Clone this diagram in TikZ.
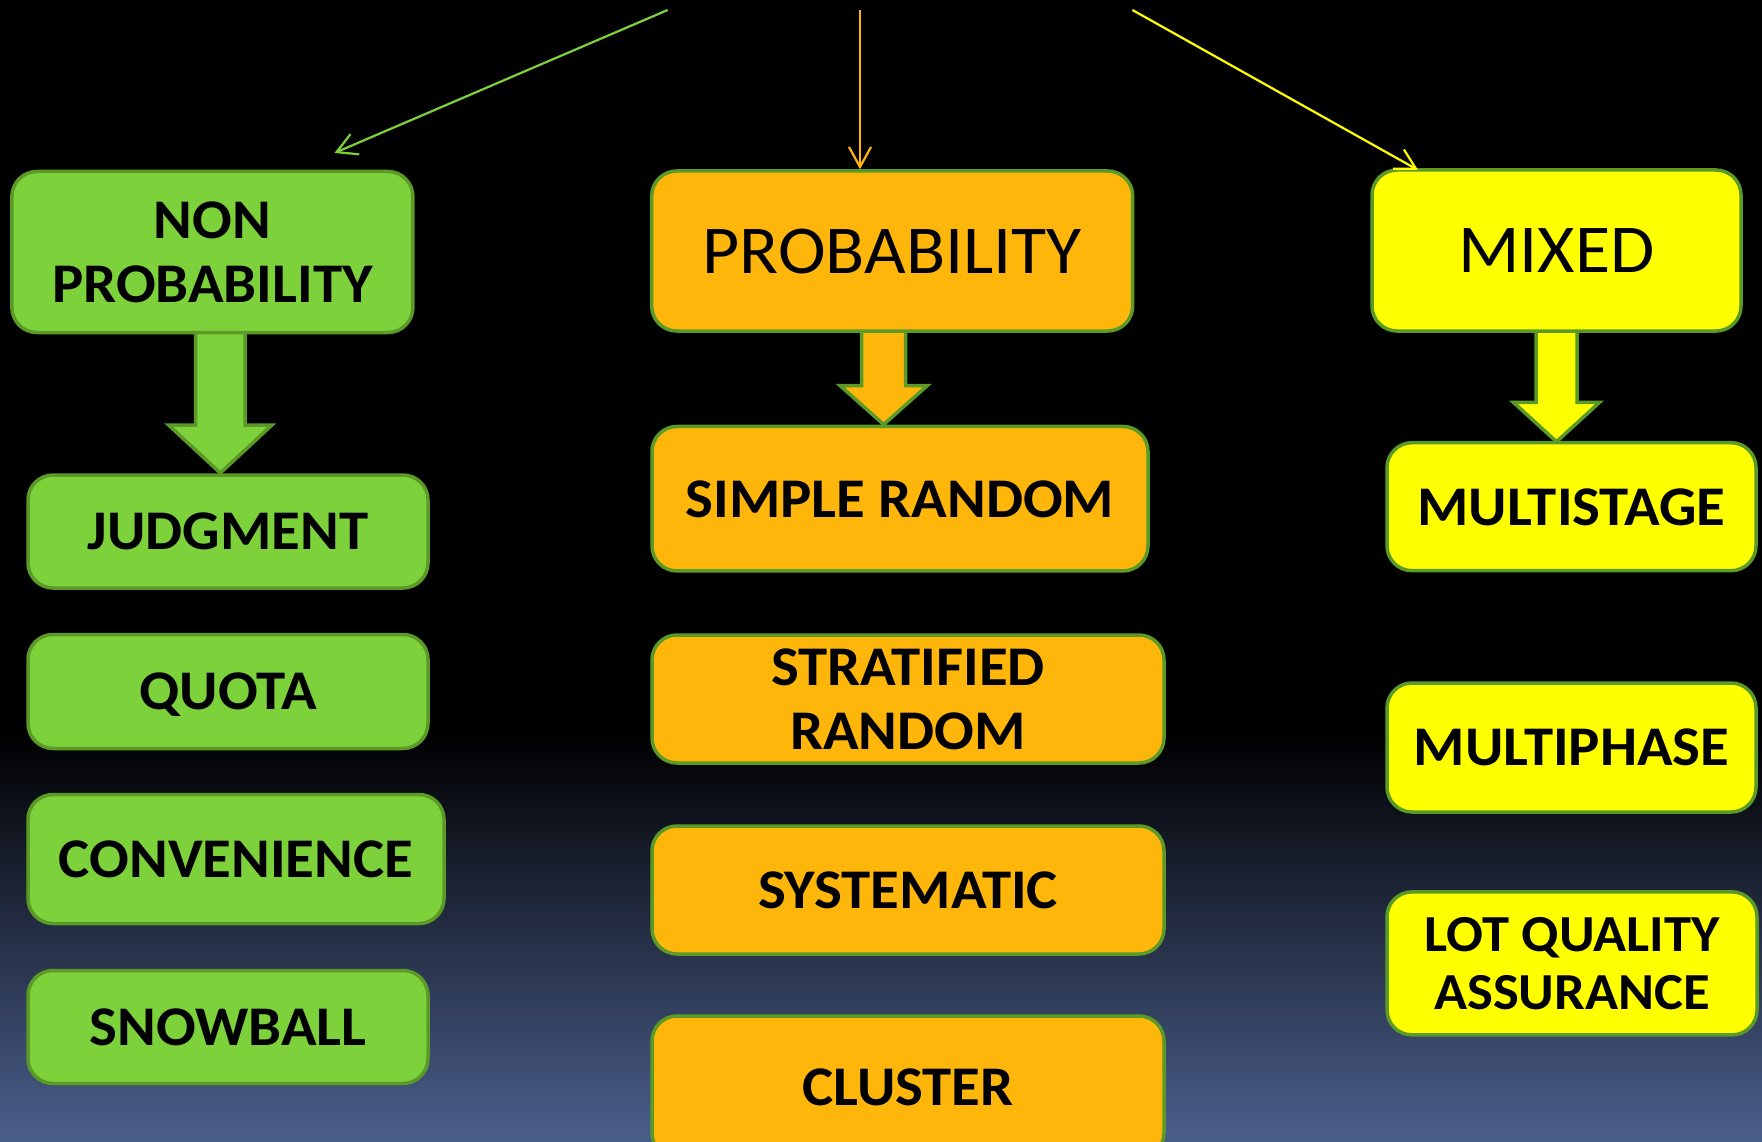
\documentclass[tikz,border=0pt]{standalone}
\usepackage{fontspec}
\setmainfont{Carlito}[FakeStretch=1.05]
\usetikzlibrary{arrows.meta}
\definecolor{gfill}{RGB}{125,209,59}
\definecolor{ofill}{RGB}{255,182,10}
\definecolor{yfill}{RGB}{255,255,0}
\definecolor{edgegreen}{RGB}{92,154,40}
\definecolor{bgblue}{RGB}{75,95,140}
\newcommand\blockarrow[7]{% fill, cx, ytop, yhead, ytip, shaft half, head half
  \draw[barrow,fill=#1] (#2-#6,#3) -- (#2-#6,#4) -- (#2-#7,#4) -- (#2,#5)
    -- (#2+#7,#4) -- (#2+#6,#4) -- (#2+#6,#3) -- cycle;}
\begin{document}
\begin{tikzpicture}[x=1pt,y=-1pt,
  box/.style={draw=edgegreen, line width=3.5pt, rounded corners=25pt, inner sep=0pt,
    align=center, text=black},
  lbl/.style={font=\bfseries\fontsize{56}{64}\selectfont, text depth=0pt},
  lbltwo/.style={font=\bfseries\fontsize{56}{64}\selectfont},
  big/.style={font=\fontsize{68.5}{80}\selectfont, text depth=0pt},
  barrow/.style={draw=edgegreen, line width=3.5pt, line join=miter},
  thinarrow/.style={line width=2.2pt, -{Straight Barb[length=20pt,width=22pt,line width=2.2pt]}}]
\useasboundingbox (0,0) rectangle (1762,1142);
\clip (0,0) rectangle (1762,1142);
\fill[black] (0,0) rectangle (1762,1142);
\shade[top color=black,bottom color=bgblue] (0,735) rectangle (1762,1142.5);

% block arrows (under the boxes)
\blockarrow{gfill}{220.3}{325}{425}{473}{24.7}{51.7}
\blockarrow{ofill}{883.7}{325}{385.7}{424.5}{22}{43.5}
\blockarrow{yfill}{1556.5}{325}{402.4}{441.7}{20.5}{43}

% left column
\node[box, fill=gfill, lbltwo, minimum width=401pt, minimum height=161pt] (nonp) at (212.4,252) {NON\\PROBABILITY};
\node[box, fill=gfill, lbl, minimum width=400pt, minimum height=113pt] (judg) at (228,531.5) {JUDGMENT};
\node[box, fill=gfill, lbl, minimum width=400pt, minimum height=114pt] (quota) at (228,691.5) {QUOTA};
\node[box, fill=gfill, lbl, minimum width=416pt, minimum height=129pt] (conv) at (236,859) {CONVENIENCE};
\node[box, fill=gfill, lbl, minimum width=400pt, minimum height=113pt] (snow) at (228,1027) {SNOWBALL};

% middle column
\node[box, fill=ofill, big, minimum width=481pt, minimum height=160pt] (prob) at (892.2,251) {PROBABILITY};
\node[box, fill=ofill, lbl, minimum width=496pt, minimum height=144.5pt] (simple) at (900,498.7) {SIMPLE RANDOM};
\node[box, fill=ofill, lbltwo, minimum width=512pt, minimum height=128pt] (strat) at (908,699) {STRATIFIED\\RANDOM};
\node[box, fill=ofill, lbl, minimum width=512pt, minimum height=128pt] (syst) at (908,890) {SYSTEMATIC};
\node[box, fill=ofill, lbl, minimum width=512pt, minimum height=142pt] (clust) at (908,1087) {CLUSTER};

% right column
\node[box, fill=yfill, big, minimum width=369pt, minimum height=161pt] (mixed) at (1556.5,250.5) {MIXED};
\node[box, fill=yfill, lbl, minimum width=369pt, minimum height=128pt] (multist) at (1571.5,506.7) {MULTISTAGE};
\node[box, fill=yfill, lbl, minimum width=369pt, minimum height=129pt] (multiph) at (1571.5,747.5) {MULTIPHASE};
\node[box, fill=yfill, font=\bfseries\fontsize{52}{58}\selectfont, minimum width=370pt, minimum height=143pt] (lot) at (1572,963.4) {LOT QUALITY\\ASSURANCE};

% thin arrows from the (absent) title
\coordinate (sg) at (667.7,10);
\coordinate (so) at (860,10);
\coordinate (sy) at (1132.4,10);
\coordinate (eg) at (334.4,153);
\coordinate (eo) at (prob.north -| so);
\coordinate (ey) at (1418,170);
\draw[thinarrow, gfill] (sg) -- (eg);
\draw[thinarrow, ofill] (so) -- (eo);
\draw[thinarrow, yfill] (sy) -- (ey);
\end{tikzpicture}
\end{document}
